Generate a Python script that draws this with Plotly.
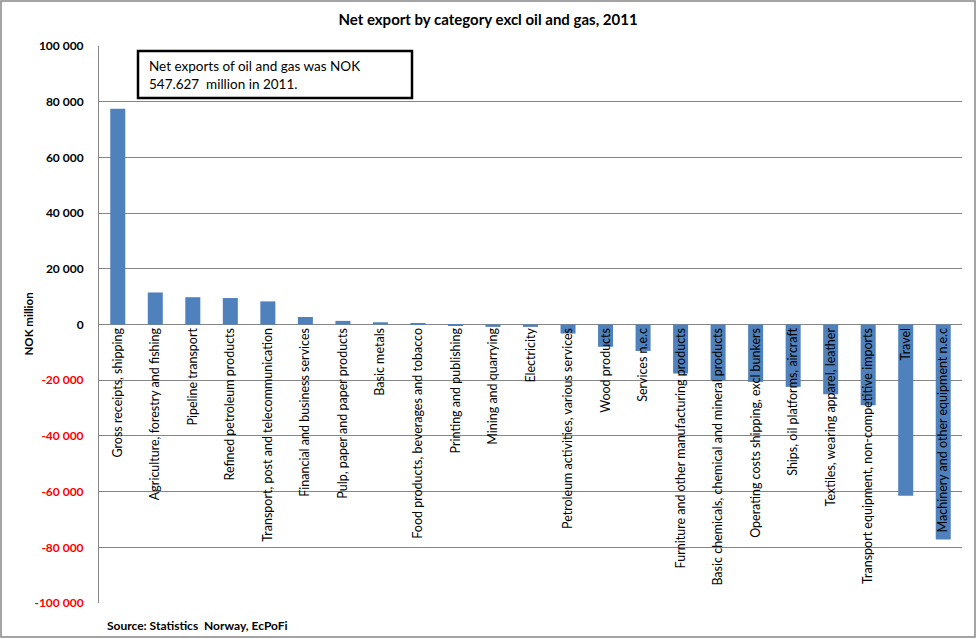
import plotly.graph_objects as go

categories = [
    "Gross receipts, shipping",
    "Agriculture, forestry and fishing",
    "Pipeline transport",
    "Refined petroleum products",
    "Transport, post and telecommunication",
    "Financial and business services",
    "Pulp, paper and paper products",
    "Basic metals",
    "Food products, beverages and tobacco",
    "Printing and publishing",
    "Mining and quarrying",
    "Electricity",
    "Petroleum activities, various services",
    "Wood products",
    "Services n.e.c",
    "Furniture and other manufacturing products",
    "Basic chemicals, chemical and mineral products",
    "Operating costs shipping, excl bunkers",
    "Ships, oil platforms, aircraft",
    "Textiles, wearing apparel, leather",
    "Transport equipment, non-competitive imports",
    "Travel",
    "Machinery and other equipment n.e.c",
]

net_export = [
    77500, 11500, 9800, 9500, 8300, 2700, 1300, 800, 450,
    -500, -850, -850, -3250, -8000, -9500, -17600, -20000,
    -20600, -22400, -25000, -29000, -61500, -77200,
]

y_tick_values = [100000, 80000, 60000, 40000, 20000, 0,
                 -20000, -40000, -60000, -80000, -100000]
y_tick_labels = ["100 000", "80 000", "60 000", "40 000", "20 000", "0",
                 "-20 000", "-40 000", "-60 000", "-80 000", "-100 000"]

title_text = "Net export by category excl oil and gas, 2011"
note_text = "Net exports of oil and gas was NOK<br>547.627&nbsp; million in 2011."
source_text = "Source: Statistics&nbsp; Norway, EcPoFi"
y_title = "NOK million"

FONT = "Lato"
GRID = "#868686"
BAR = "#4F81BD"

W, H = 977, 639
ML, MR, MT, MB = 99, 15, 46, 36
PW = W - ML - MR
PH = H - MT - MB


def px_x(p):
    return (p - ML) / PW


def px_y(p):
    return 1 - (p - MT) / PH


tick_text = []
for v, t in zip(y_tick_values, y_tick_labels):
    if v < 0:
        tick_text.append(f'<b><span style="color:#FF0000">{t}</span></b>')
    else:
        tick_text.append(f"<b>{t}</b>")

fig = go.Figure(
    go.Bar(x=categories, y=net_export, marker=dict(color=BAR, line=dict(width=0)))
)

fig.update_layout(
    width=W,
    height=H,
    margin=dict(l=ML, r=MR, t=MT, b=MB, autoexpand=False),
    paper_bgcolor="white",
    plot_bgcolor="white",
    bargap=0.6,
    showlegend=False,
    font=dict(family=FONT, color="black"),
    title=dict(
        text=f"<b>{title_text}</b>",
        x=488 / W,
        xanchor="center",
        xref="container",
        y=1 - 20 / H,
        yanchor="middle",
        yref="container",
        font=dict(size=15, family=FONT, color="black"),
    ),
    xaxis=dict(
        type="category",
        anchor="free",
        position=0.5,
        showgrid=False,
        showline=False,
        zeroline=False,
        ticks="",
        tickangle=-90,
        tickfont=dict(size=12.5, family=FONT, color="black"),
        automargin=False,
    ),
    yaxis=dict(
        range=[-100000, 100000],
        tickvals=y_tick_values,
        ticktext=tick_text,
        showgrid=True,
        gridcolor=GRID,
        gridwidth=1,
        showline=True,
        linecolor=GRID,
        linewidth=1,
        zeroline=True,
        zerolinecolor=GRID,
        zerolinewidth=1,
        ticks="",
        ticklabelstandoff=12,
        tickfont=dict(size=12, family=FONT, color="black"),
        automargin=False,
    ),
    annotations=[
        dict(
            text=note_text,
            xref="paper", yref="paper",
            x=px_x(147), y=px_y(74.5),
            xanchor="left", yanchor="middle",
            align="left",
            showarrow=False,
            font=dict(size=13.5, family=FONT, color="black"),
        ),
        dict(
            text=f"<b>{y_title}</b>",
            xref="paper", yref="paper",
            x=px_x(28), y=0.5,
            xanchor="center", yanchor="middle",
            textangle=-90,
            showarrow=False,
            font=dict(size=11.5, family=FONT, color="black"),
        ),
        dict(
            text=f"<b>{source_text}</b>",
            xref="paper", yref="paper",
            x=px_x(105), y=px_y(625),
            xanchor="left", yanchor="middle",
            showarrow=False,
            font=dict(size=12, family=FONT, color="black"),
        ),
    ],
    shapes=[
        dict(
            type="rect",
            xref="paper", yref="paper",
            x0=px_x(1), x1=px_x(975),
            y0=px_y(637), y1=px_y(1),
            line=dict(color=GRID, width=1.5),
            fillcolor="rgba(0,0,0,0)",
            layer="below",
        ),
        dict(
            type="rect",
            xref="paper", yref="paper",
            x0=px_x(138), x1=px_x(412),
            y0=px_y(98), y1=px_y(51),
            line=dict(color="black", width=2.5),
            fillcolor="white",
            layer="above",
        ),
    ],
)

fig.write_html(
    "out.html",
    config={"displayModeBar": False},
    post_script="document.body.style.margin='0px';document.body.style.padding='0px';",
)
